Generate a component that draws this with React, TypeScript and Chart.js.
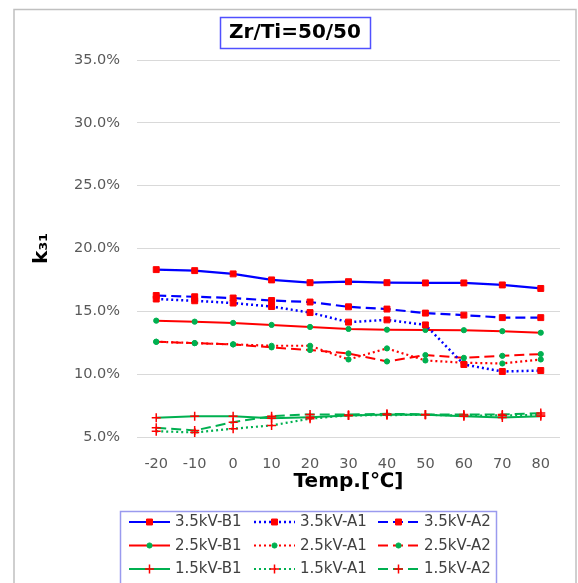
import React, { useEffect, useRef } from 'react';
import { Chart, registerables } from 'chart.js';
import { drawPoint } from 'chart.js/helpers';

Chart.register(...registerables);

// ---------- data ----------
const temps = ['-20', '-10', '0', '10', '20', '30', '40', '50', '60', '70', '80'];
const yMin = 5;
const yMax = 35;
const yStep = 5;

const kv35B1 = [18.32, 18.24, 17.98, 17.5, 17.28, 17.36, 17.28, 17.26, 17.26, 17.1, 16.82];
const kv35A1 = [15.98, 15.84, 15.66, 15.38, 14.9, 14.14, 14.32, 13.92, 10.77, 10.21, 10.29];
const kv35A2 = [16.26, 16.16, 16.06, 15.86, 15.74, 15.36, 15.18, 14.86, 14.7, 14.5, 14.5];
const kv25B1 = [14.26, 14.18, 14.08, 13.92, 13.76, 13.6, 13.54, 13.52, 13.5, 13.42, 13.3];
const kv25A1 = [12.58, 12.47, 12.37, 12.26, 12.26, 11.17, 12.05, 11.09, 10.91, 10.85, 11.17];
const kv25A2 = [12.58, 12.47, 12.37, 12.13, 11.92, 11.65, 11.01, 11.52, 11.3, 11.46, 11.6];
const kv15B1 = [6.54, 6.66, 6.66, 6.5, 6.58, 6.72, 6.8, 6.77, 6.66, 6.55, 6.65];
const kv15A1 = [5.46, 5.36, 5.66, 5.92, 6.46, 6.72, 6.74, 6.77, 6.7, 6.72, 6.75];
const kv15A2 = [5.74, 5.52, 6.18, 6.66, 6.8, 6.78, 6.85, 6.8, 6.8, 6.8, 6.9];

const titleText = 'Zr/Ti=50/50';
const xTitle = 'Temp.[℃]';
const yTitle = 'k₃₁';

// ---------- styles ----------
const FONT = "'DejaVu Sans', Verdana, sans-serif";
const BLUE = '#0000ff';
const RED = '#ff0000';
const GREEN = '#00b050';

const SOLID: number[] = [];
const DOTTED = [2, 3];
const DASHED = [10, 5];

type Marker = 'square' | 'circle' | 'plus';

function makeDataset(label: string, data: number[], color: string, dash: number[], marker: Marker, width: number) {
  const m =
    marker === 'square'
      ? { pointStyle: 'rect', pointRadius: 4.2, pointBackgroundColor: RED, pointBorderColor: RED, pointBorderWidth: 1 }
      : marker === 'circle'
      ? { pointStyle: 'circle', pointRadius: 2.6, pointBackgroundColor: GREEN, pointBorderColor: GREEN, pointBorderWidth: 1 }
      : { pointStyle: 'cross', pointRadius: 4.5, pointBackgroundColor: RED, pointBorderColor: RED, pointBorderWidth: 1.5 };
  return {
    label,
    data,
    borderColor: color,
    backgroundColor: color,
    borderWidth: width,
    borderDash: dash,
    tension: 0,
    fill: false,
    ...m,
  };
}

// Custom drawing: outer frame, boxed title, boxed 3-column legend
const decorPlugin = {
  id: 'decor',
  afterDraw(chart: any) {
    const ctx = chart.ctx as CanvasRenderingContext2D;
    const W = chart.width;
    ctx.save();
    // outer frame
    ctx.strokeStyle = '#c0c0c0';
    ctx.lineWidth = 1.5;
    ctx.setLineDash([]);
    ctx.strokeRect(14, 9.5, W - 2 - 14, 620);

    // title with box
    const cx = (14 + (W - 2)) / 2;
    const cy = 33;
    ctx.font = `bold 20px ${FONT}`;
    ctx.fillStyle = '#000';
    ctx.textAlign = 'center';
    ctx.textBaseline = 'middle';
    const tw = ctx.measureText(titleText).width;
    ctx.fillText(titleText, cx, cy);
    ctx.strokeStyle = '#5050ff';
    ctx.lineWidth = 1.5;
    const bw = tw + 18;
    ctx.strokeRect(Math.round(cx - bw / 2) + 0.5, 17.5, Math.round(bw), 31);

    // legend
    const lx = 120;
    const ly = 511;
    const lw = 376;
    ctx.strokeStyle = '#9a9aee';
    ctx.lineWidth = 1.5;
    ctx.strokeRect(lx + 0.5, ly + 0.5, lw, 80);
    const colX = [129, 254, 378];
    const sampleLen = 41;
    const rowY0 = 522;
    const rowGap = 23.5;
    ctx.font = `15px ${FONT}`;
    ctx.textAlign = 'left';
    ctx.textBaseline = 'middle';
    chart.data.datasets.forEach((ds: any, i: number) => {
      const r = Math.floor(i / 3);
      const c = i % 3;
      const x0 = colX[c];
      const y = rowY0 + r * rowGap;
      ctx.strokeStyle = ds.borderColor;
      ctx.lineWidth = ds.borderWidth;
      ctx.setLineDash(ds.borderDash || []);
      ctx.beginPath();
      ctx.moveTo(x0, y);
      ctx.lineTo(x0 + sampleLen, y);
      ctx.stroke();
      ctx.setLineDash([]);
      ctx.fillStyle = ds.pointBackgroundColor;
      ctx.strokeStyle = ds.pointBorderColor;
      ctx.lineWidth = ds.pointBorderWidth;
      drawPoint(ctx, { pointStyle: ds.pointStyle, radius: ds.pointRadius, borderWidth: ds.pointBorderWidth, rotation: 0 } as any, x0 + sampleLen / 2, y);
      ctx.fillStyle = '#404040';
      ctx.fillText(ds.label, x0 + sampleLen + 5, y + 0.5);
    });
    ctx.restore();
  },
};

export default function App() {
  const canvasRef = useRef<HTMLCanvasElement | null>(null);

  useEffect(() => {
    const canvas = canvasRef.current;
    if (!canvas) return;
    const datasets = [
      makeDataset('3.5kV-B1', kv35B1, BLUE, SOLID, 'square', 2.2),
      makeDataset('3.5kV-A1', kv35A1, BLUE, DOTTED, 'square', 2.5),
      makeDataset('3.5kV-A2', kv35A2, BLUE, DASHED, 'square', 2.2),
      makeDataset('2.5kV-B1', kv25B1, RED, SOLID, 'circle', 2),
      makeDataset('2.5kV-A1', kv25A1, RED, DOTTED, 'circle', 2.2),
      makeDataset('2.5kV-A2', kv25A2, RED, DASHED, 'circle', 2),
      makeDataset('1.5kV-B1', kv15B1, GREEN, SOLID, 'plus', 2),
      makeDataset('1.5kV-A1', kv15A1, GREEN, DOTTED, 'plus', 2.2),
      makeDataset('1.5kV-A2', kv15A2, GREEN, DASHED, 'plus', 2),
    ];
    const chart = new Chart(canvas, {
      type: 'line',
      data: { labels: temps, datasets: datasets as any },
      options: {
        responsive: false,
        animation: false,
        layout: { padding: { left: 16, right: 18, top: 60, bottom: 89 } },
        plugins: {
          legend: { display: false },
          title: { display: false },
          tooltip: { enabled: false },
        },
        scales: {
          x: {
            type: 'category',
            offset: true,
            grid: { display: false },
            border: { display: false },
            ticks: {
              color: '#595959',
              font: { family: FONT, size: 14.5 },
              padding: 11,
              maxRotation: 0,
              autoSkip: false,
            },
            title: {
              display: true,
              text: xTitle,
              color: '#000',
              font: { family: FONT, size: 20, weight: 'bold' },
              padding: 0,
            },
            afterFit: (s: any) => {
              s.height = 57;
            },
          },
          y: {
            min: yMin,
            max: yMax,
            grid: { color: '#d9d9d9', drawTicks: false, lineWidth: 1 },
            border: { display: false },
            ticks: {
              stepSize: yStep,
              color: '#595959',
              font: { family: FONT, size: 14.5 },
              padding: 17,
              callback: (v: any) => Number(v).toFixed(1) + '%',
            },
            title: {
              display: true,
              text: yTitle,
              color: '#000',
              font: { family: FONT, size: 20, weight: 'bold' },
              padding: { top: 14, bottom: 0 },
            },
            afterFit: (s: any) => {
              s.width = 137 - 16;
            },
          },
        },
      } as any,
      plugins: [decorPlugin],
    });
    return () => chart.destroy();
  }, []);

  return (
    <div style={{ position: 'absolute', left: 0, top: 0, width: 578, height: 583, background: '#fff' }}>
      <canvas ref={canvasRef} width={578} height={583} style={{ display: 'block' }} />
    </div>
  );
}
